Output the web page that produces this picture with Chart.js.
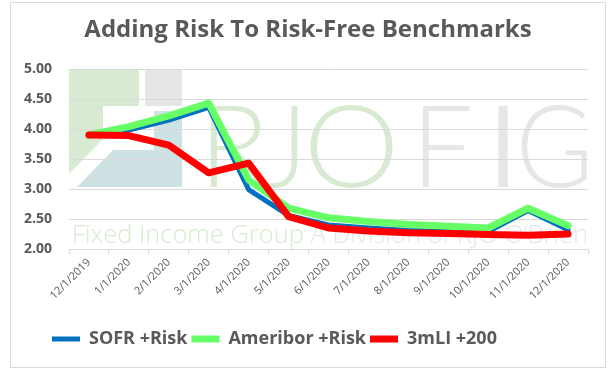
<!DOCTYPE html>
<html><head><meta charset="utf-8">
<script src="https://cdn.jsdelivr.net/npm/chart.js@4"></script>
<style>html,body{margin:0;padding:0;background:#fff}canvas{display:block}</style>
</head><body>
<canvas id="c" width="612" height="374"></canvas>
<script>
const categories = ['12/1/2019','1/1/2020','2/1/2020','3/1/2020','4/1/2020','5/1/2020','6/1/2020','7/1/2020','8/1/2020','9/1/2020','10/1/2020','11/1/2020','12/1/2020'];
const sofrRisk     = [3.90, 3.98, 4.15, 4.36, 2.99, 2.56, 2.40, 2.35, 2.31, 2.29, 2.29, 2.64, 2.32];
const ameriborRisk = [3.90, 4.04, 4.22, 4.43, 3.15, 2.68, 2.52, 2.46, 2.41, 2.38, 2.35, 2.68, 2.39];
const liborPlus200 = [3.90, 3.89, 3.73, 3.27, 3.43, 2.54, 2.35, 2.30, 2.27, 2.26, 2.24, 2.23, 2.25];
const seriesNames  = ['SOFR +Risk', 'Ameribor +Risk', '3mLI +200'];
const yMin = 2, yMax = 5, yStep = 0.5;
const titleText = 'Adding Risk To Risk-Free Benchmarks';

const FONT = '"Open Sans", "Liberation Sans", sans-serif';
const GREY = '#595959';

const watermark = {
  id: 'watermark',
  beforeDraw(chart) {
    const {ctx, chartArea: a} = chart;
    const L = a.left, T = a.top;
    ctx.save();
    const poly = (pts, color) => {
      ctx.fillStyle = color; ctx.beginPath();
      pts.forEach((p, i) => i ? ctx.lineTo(L + p[0], T + p[1]) : ctx.moveTo(L + p[0], T + p[1]));
      ctx.closePath(); ctx.fill();
    };
    poly([[0,0],[70,0],[70,37],[34,37],[34,70],[0,105]], '#d9ead3');
    poly([[76,0],[113,0],[113,37],[76,37]], '#e6e6e6');
    poly([[85,42],[113,42],[113,118],[8,118],[44,81],[85,81]], '#cfe2e3');
    ctx.font = '300 114px Lato, ' + FONT;
    ctx.textAlign = 'left'; ctx.textBaseline = 'alphabetic';
    const capM = ctx.measureText('R');
    const sy = 82 / capM.actualBoundingBoxAscent;
    const letters = [['R',141,199,'#d9ead3'],['J',195,229,'#d9ead3'],['O',241,324,'#d9ead3'],['F',353,401,'#e6e6e6'],['I',428,439,'#e6e6e6'],['G',452,518,'#e6e6e6']];
    letters.forEach(([ch, x0, x1, col]) => {
      const m = ctx.measureText(ch);
      const inkL = -m.actualBoundingBoxLeft, inkW = m.actualBoundingBoxRight + m.actualBoundingBoxLeft;
      const sx = (x1 - x0) / inkW;
      ctx.save();
      ctx.translate(L + x0, T + 118);
      ctx.scale(sx, sy);
      ctx.fillStyle = col;
      ctx.fillText(ch, -inkL, 0);
      ctx.restore();
    });
    ctx.font = '300 25px ' + FONT;
    const p1 = 'Fixed Income Group ', p2 = 'A Division of RJO O\u2019Brien';
    const w1 = ctx.measureText(p1).width, w2 = ctx.measureText(p2).width;
    const sx = 516 / (w1 + w2);
    ctx.translate(L + 3, T + 174);
    ctx.scale(sx, 1);
    ctx.fillStyle = '#d9ead3'; ctx.fillText(p1, 0, 0);
    ctx.fillStyle = '#e6e6e6'; ctx.fillText(p2, w1, 0);
    ctx.restore();
  },
  afterDraw(chart) {
    const ctx = chart.ctx;
    ctx.save();
    ctx.strokeStyle = '#d9d9d9'; ctx.lineWidth = 1;
    ctx.strokeRect(10.5, 2.5, 595, 365);
    ctx.restore();
  }
};

const LEG_PAD = 4;
const placer = {
  id: 'placer',
  afterLayout(chart) {
    const t = chart.titleBlock;
    if (t) { const w = t.right - t.left; t.left = 308 - w / 2; t.right = 308 + w / 2; }
    const lg = chart.legend;
    if (lg) { const w = lg.right - lg.left; lg.left = 52 - LEG_PAD; lg.right = lg.left + w; }
  }
};

new Chart(document.getElementById('c'), {
  type: 'line',
  data: {
    labels: categories,
    datasets: [
      {label: seriesNames[0], data: sofrRisk, borderColor: '#0070c0', backgroundColor: '#0070c0', borderWidth: 5, order: 2},
      {label: seriesNames[1], data: ameriborRisk, borderColor: '#66ff66', backgroundColor: '#66ff66', borderWidth: 7, order: 1},
      {label: seriesNames[2], data: liborPlus200, borderColor: '#ff0000', backgroundColor: '#ff0000', borderWidth: 7, order: 0}
    ].map(d => Object.assign(d, {pointRadius: 0, pointHoverRadius: 0, tension: 0, fill: false, borderCapStyle: 'round', borderJoinStyle: 'round'}))
  },
  options: {
    responsive: false,
    animation: false,
    events: [],
    layout: {padding: {left: 12, right: 24, top: 0, bottom: 16}},
    plugins: {
      tooltip: {enabled: false},
      title: {
        display: true, text: titleText, color: GREY,
        font: {family: FONT, size: 24, weight: 'bold'},
        padding: {top: 16, bottom: 24.2}
      },
      legend: {
        position: 'bottom', align: 'start',
        labels: {
          usePointStyle: true, pointStyle: 'line', pointStyleWidth: 28,
          color: GREY, font: {family: FONT, size: 18, weight: 'bold'}, padding: LEG_PAD,
          sort: (a, b) => a.datasetIndex - b.datasetIndex
        }
      }
    },
    scales: {
      x: {
        offset: true,
        grid: {offset: true, drawOnChartArea: false, drawTicks: true, tickLength: 5, color: '#d9d9d9'},
        border: {color: '#d9d9d9'},
        ticks: {autoSkip: false, maxRotation: 45, minRotation: 45, color: GREY, font: {family: FONT, size: 11}, padding: 2},
        afterFit(s) { s.height = 77; }
      },
      y: {
        min: yMin, max: yMax,
        grid: {color: '#d9d9d9', drawTicks: false},
        border: {display: false},
        ticks: {stepSize: yStep, color: GREY, font: {family: FONT, size: 14, weight: 'bold'}, padding: 17, callback: v => Number(v).toFixed(2)},
        afterFit(s) { s.width = 57; }
      }
    }
  },
  plugins: [watermark, placer]
});
</script>
</body></html>
